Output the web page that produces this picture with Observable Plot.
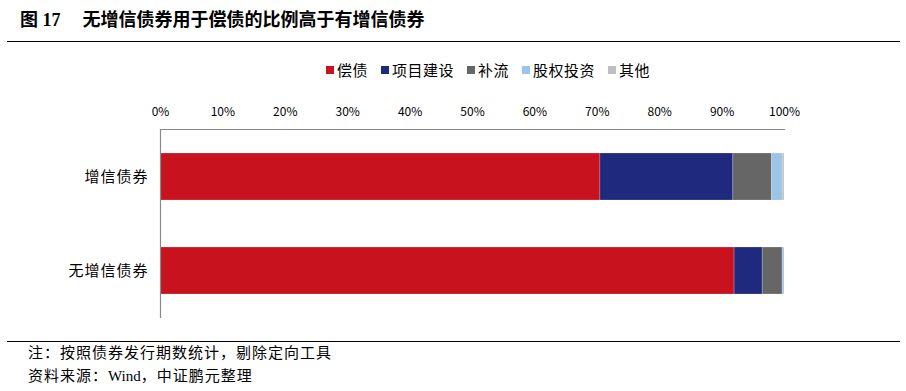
<!DOCTYPE html>
<html>
<head>
<meta charset="utf-8">
<script src="https://cdn.jsdelivr.net/npm/d3@7"></script>
<script src="https://cdn.jsdelivr.net/npm/@observablehq/plot@0.6"></script>
<style>
  html, body { margin: 0; padding: 0; background: #fff; }
  #wrap { position: relative; width: 906px; height: 391px; overflow: hidden; font-family: "Noto Sans CJK SC", "Noto Sans", sans-serif; color: #000; }
  #title { position: absolute; left: 20px; top: 6px; font-size: 18px; font-weight: 700; white-space: nowrap; line-height: 24px; font-family: "Liberation Serif", "Noto Sans CJK SC", serif; }
  #title .t { margin-left: 22px; font-family: "Noto Sans CJK SC", sans-serif; }
  .hline { position: absolute; left: 7px; width: 893px; height: 1.5px; background: #000; }
  #legend { position: absolute; left: 326px; top: 60px; display: flex; align-items: center; font-size: 15px; letter-spacing: 0.5px; line-height: 20px; white-space: nowrap; }
  #legend .item { display: flex; align-items: center; margin-right: 13px; }
  #legend .sw { width: 8px; height: 8px; margin-right: 3px; }
  #chart { position: absolute; left: 0; top: 95px; }
  #foot { position: absolute; left: 28px; top: 340px; font-size: 15px; line-height: 23px; letter-spacing: 1px; white-space: nowrap; }
  #foot .w { font-family: "Liberation Serif", serif; letter-spacing: 0; }
</style>
</head>
<body>
<div id="wrap">
  <div id="title">图 17<span class="t">无增信债券用于偿债的比例高于有增信债券</span></div>
  <div class="hline" style="top:40.5px"></div>
  <div id="legend"></div>
  <div id="chart"></div>
  <div class="hline" style="top:340.5px"></div>
  <div id="foot">
    <div>注：按照债券发行期数统计，剔除定向工具</div>
    <div>资料来源：<span class="w">Wind</span>，中证鹏元整理</div>
  </div>
</div>
<script>
// ---- data ----
const categories = ["增信债券", "无增信债券"];
const purposes = ["偿债", "项目建设", "补流", "股权投资", "其他"];
const guaranteedShares = [70.5, 21.3, 6.2, 1.7, 0.3];     // 增信债券 (%)
const unguaranteedShares = [92.0, 4.5, 3.2, 0.3, 0.0];    // 无增信债券 (%)
const xTicks = [0, 10, 20, 30, 40, 50, 60, 70, 80, 90, 100];
const colors = ["#C8131F", "#1F297D", "#666666", "#9DC3E6", "#BFBFBF"];

const seriesByCategory = [guaranteedShares, unguaranteedShares];
const rows = [];
categories.forEach((c, i) => {
  purposes.forEach((p, j) => rows.push({category: c, purpose: p, value: seriesByCategory[i][j]}));
});

// ---- legend ----
const legend = document.getElementById("legend");
purposes.forEach((p, j) => {
  const it = document.createElement("div");
  it.className = "item";
  const sw = document.createElement("span");
  sw.className = "sw";
  sw.style.background = colors[j];
  const tx = document.createElement("span");
  tx.textContent = p;
  it.appendChild(sw); it.appendChild(tx);
  legend.appendChild(it);
});

// ---- chart ----
const chart = Plot.plot({
  width: 906,
  height: 235,
  marginLeft: 160,
  marginRight: 122,
  marginTop: 34,
  marginBottom: 12,
  style: {fontFamily: "'Noto Sans CJK SC', 'Noto Sans', sans-serif", fontSize: "12px", background: "transparent", color: "#000"},
  x: {domain: [0, 100]},
  y: {domain: categories, paddingInner: 0.5, paddingOuter: 0.25},
  color: {domain: purposes, range: colors},
  marks: [
    Plot.barX(rows, {x: "value", y: "category", fill: "purpose", order: purposes, stroke: "#fff", strokeOpacity: 0.35, strokeWidth: 0.6}),
    Plot.axisX(xTicks, {anchor: "top", tickSize: 0, tickPadding: 14, tickFormat: d => d + "%", label: null, fontSize: 12}),
    Plot.axisY({tickSize: 0, tickPadding: 12, label: null, fontSize: 15}),
    Plot.ruleX([0], {stroke: "#8a8a8a", strokeWidth: 1.2}),
    Plot.frame({anchor: "top", stroke: "#8a8a8a", strokeWidth: 1.2})
  ]
});
document.getElementById("chart").appendChild(chart);
d3.select(chart).selectAll("g[aria-label='y-axis tick label'] text").style("letter-spacing", "1px");
</script>
</body>
</html>
